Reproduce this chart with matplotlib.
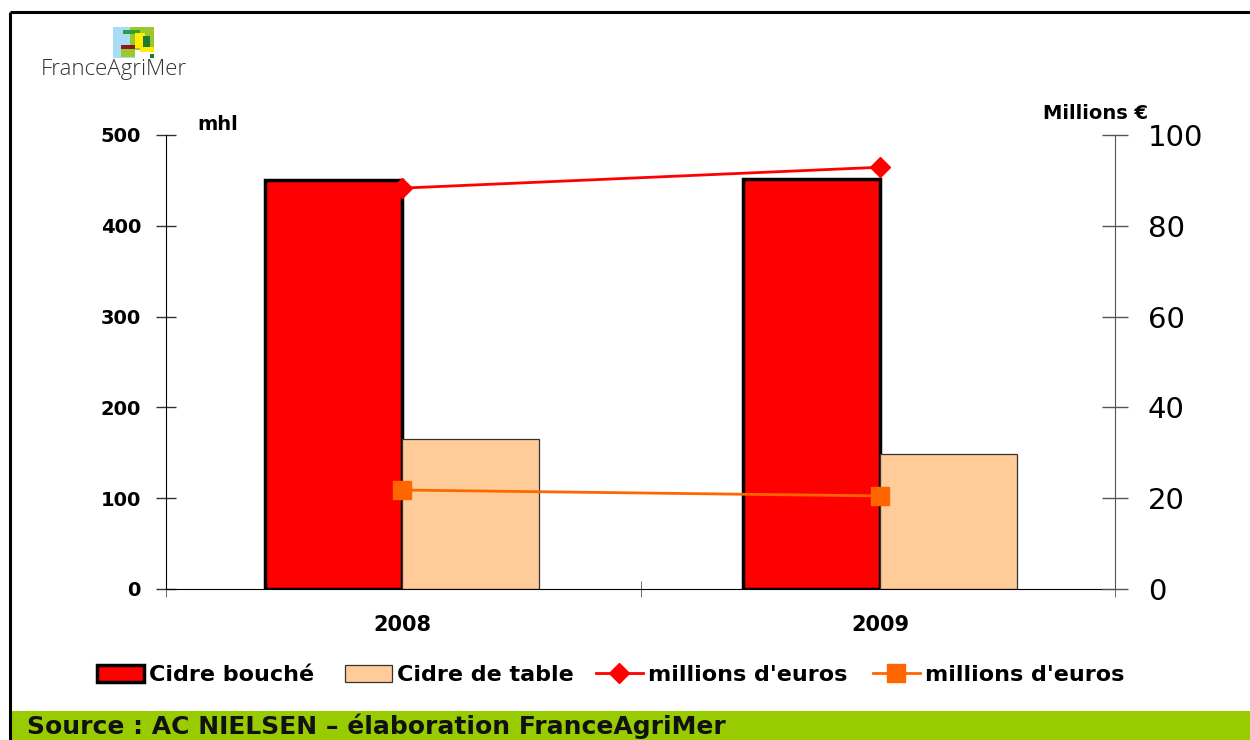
import matplotlib
matplotlib.use("Agg")
import matplotlib.pyplot as plt
import numpy as np
from matplotlib.patches import Rectangle

# ---------------- data ----------------
years = ["2008", "2009"]
cidre_bouche = [450, 451]          # mhl
cidre_table = [165, 149]           # mhl
euros_bouche = [88.3, 92.9]        # millions d'euros
euros_table = [21.8, 20.5]         # millions d'euros
left_ticks = [0, 100, 200, 300, 400, 500]
right_ticks = [0, 20, 40, 60, 80, 100]
legend_labels = ["Cidre bouché", "Cidre de table", "millions d'euros", "millions d'euros"]

RED = "#FF0000"
PEACH = "#FFCC99"
ORANGE = "#FF6600"
GREEN_BAND = "#99CC00"

plt.rcParams["font.family"] = ["DejaVu Sans"]

W, H = 1250, 740
fig = plt.figure(figsize=(W / 100, H / 100), dpi=100)

# ---------------- decoration layer (pixel coords) ----------------
bg = fig.add_axes([0, 0, 1, 1])
bg.set_xlim(0, W)
bg.set_ylim(H, 0)
bg.axis("off")
bg.add_patch(Rectangle((10, 711), W - 10, 29, facecolor=GREEN_BAND, edgecolor="none"))
bg.plot([10, W], [12, 12], color="black", lw=2.2, solid_capstyle="butt")
bg.plot([10, 10], [12, H], color="black", lw=2.2, solid_capstyle="butt")
# logo blocks
logo = [
    (113, 27, 22, 31, "#A8DDF5"),
    (130, 27, 24, 23, "#9CC82E"),
    (123, 30, 17, 4, "#2E9E3A"),
    (135, 33, 10, 15, "#FFEE00"),
    (143, 36, 7, 12, "#1E7B32"),
    (121, 45, 14, 4, "#8B1A1A"),
    (121, 49, 14, 8, "#9CC82E"),
    (140, 47, 14, 5, "#FFEE00"),
    (150, 54, 4, 4, "#1E7B32"),
]
for x0, y0, w0, h0, c in logo:
    bg.add_patch(Rectangle((x0, y0), w0, h0, facecolor=c, edgecolor="none"))

fig.text(41 / W, 1 - 69 / H, "FranceAgriMer", family=["Open Sans", "DejaVu Sans"],
         fontweight="light", fontsize=16, color="#333333", va="center", ha="left")

# ---------------- main chart ----------------
ax = fig.add_axes([166 / W, 1 - 589 / H, (1115 - 166) / W, (589 - 135) / H])
ax.set_facecolor("none")
ax2 = ax.twinx()

x = np.arange(len(years))
bw = 0.287
b1 = ax.bar(x - bw / 2, cidre_bouche, bw, color=RED, edgecolor="black", linewidth=2.5, zorder=2)
b2 = ax.bar(x + bw / 2, cidre_table, bw, color=PEACH, edgecolor="#333333", linewidth=0.9, zorder=2)
l1, = ax2.plot(x, euros_bouche, color=RED, lw=2, marker="D", markersize=10, zorder=3)
l2, = ax2.plot(x, euros_table, color=ORANGE, lw=2, marker="s", markersize=13, zorder=3)

ax.set_xlim(-0.495, 1.492)
ax.set_ylim(0, 500)
ax2.set_ylim(0, 100)

ax.set_yticks(left_ticks)
ax.set_yticklabels([str(v) for v in left_ticks], fontweight="bold", fontsize=14)
ax.tick_params(axis="y", direction="inout", length=14, width=1, color="#333333", pad=11)

ax2.set_yticks(right_ticks)
ax2.set_yticklabels([str(v) for v in right_ticks], fontsize=21)
ax2.tick_params(axis="y", direction="inout", length=19, width=1, color="#555555", pad=14)

ax.set_xticks(x)
ax.set_xticklabels(years, fontweight="bold", fontsize=15)
ax.set_xticks([-0.495, 0.5, 1.492], minor=True)
ax.tick_params(axis="x", which="major", length=0, pad=19)
ax.tick_params(axis="x", which="minor", direction="inout", length=12, color="#555555")

for s in ["top", "right"]:
    ax.spines[s].set_visible(False)
ax.spines["left"].set_color("black")
ax.spines["bottom"].set_color("black")
for s in ["top", "left", "bottom"]:
    ax2.spines[s].set_visible(False)
ax2.spines["right"].set_color("#555555")

fig.text(197 / W, 1 - 130 / H, "mhl", fontweight="bold", fontsize=14, ha="left", va="baseline")
fig.text(1148 / W, 1 - 119 / H, "Millions €", fontweight="bold", fontsize=14, ha="right", va="baseline")

# legend: one entry per box, anchored at the reference handle positions
handles = [b1, b2, l1, l2]
starts = [97, 345, 596, 873]
for h, lab, xs in zip(handles, legend_labels, starts):
    fig.legend([h], [lab], loc="center left", bbox_to_anchor=(xs / W, 1 - 675 / H),
               frameon=False, prop={"weight": "bold", "size": 16},
               handlelength=2.1, handletextpad=0.25, handleheight=0.77,
               borderpad=0, borderaxespad=0)

fig.text(27 / W, 1 - 726 / H, "Source : AC NIELSEN – élaboration FranceAgriMer",
         fontweight="bold", fontsize=18, color="#111111", ha="left", va="center")

fig.savefig("out.png", dpi=100)
